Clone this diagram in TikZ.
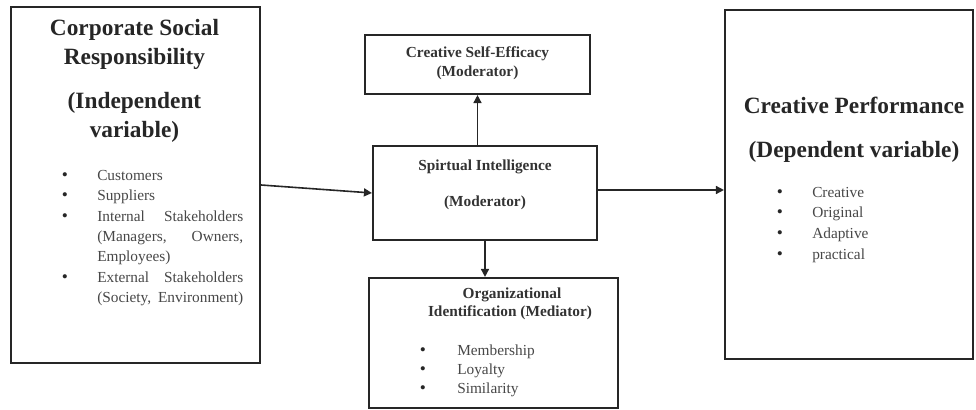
\documentclass[tikz,border=0pt]{standalone}
\usepackage{fontspec}
\setmainfont{Liberation Serif}
\usetikzlibrary{arrows.meta}
\begin{document}
\begin{tikzpicture}[x=0.75pt,y=-0.75pt,
  box/.style={draw=black!85, line width=1.6pt, inner sep=0pt},
  title/.style={font=\bfseries\fontsize{17.5}{20}\selectfont, text=black!85, inner sep=0pt},
  sub/.style={font=\bfseries\fontsize{11.5}{13}\selectfont, text=black!80, inner sep=0pt},
  item/.style={font=\fontsize{11.5}{13}\selectfont, text=black!72, inner sep=0pt, anchor=base west, yshift=-4pt},
  dot/.style={font=\fontsize{13}{13}\selectfont, text=black!85, inner sep=0pt, anchor=base, yshift=-4pt},
  conn/.style={draw=black!85, line width=1.2pt, -{Triangle[length=6pt,width=6pt]}}]
\useasboundingbox (0,0) rectangle (976,410);

% boxes
\node[box, minimum width=186.75pt, minimum height=267pt] (L) at (135.5,185) {};
\node[box, minimum width=168.75pt, minimum height=44.25pt] (CSE) at (477.5,64.5) {};
\node[box, minimum width=168pt, minimum height=70.5pt] (SI) at (485,193) {};
\node[box, minimum width=186.75pt, minimum height=97.5pt] (OI) at (493.5,343) {};
\node[box, minimum width=186pt, minimum height=261.75pt] (R) at (849,184.5) {};

% left box text
\node[title] (l1) at (134.5,30) {Corporate Social};
\node[title] (l2) at (134.5,59) {Responsibility};
\node[title] (l3) at (134.5,103) {(Independent};
\node[title] (l4) at (134.5,132) {variable)};
\node[dot] (lb1) at (65,175) {\textbullet};
\node[dot] (lb2) at (65,195) {\textbullet};
\node[dot] (lb3) at (65,216) {\textbullet};
\node[dot] (lb4) at (65,277) {\textbullet};
\node[item] (li1) at (97,175) {Customers};
\node[item] (li2) at (97,195) {Suppliers};
\node[item] (li3) at (97,216) {\makebox[109.5pt][s]{Internal Stakeholders}};
\node[item] (li4) at (97,236) {\makebox[109.5pt][s]{(Managers, Owners,}};
\node[item] (li5) at (97,256) {Employees)};
\node[item] (li6) at (97,277) {\makebox[109.5pt][s]{External Stakeholders}};
\node[item] (li7) at (97,297) {\makebox[109.5pt][s]{(Society, Environment)}};

% creative self-efficacy
\node[sub] (c1) at (477.5,54) {Creative Self-Efficacy};
\node[sub] (c2) at (477.5,73) {(Moderator)};

% spiritual intelligence
\node[sub] (s1) at (485,167) {Spirtual Intelligence};
\node[sub] (s2) at (485,203) {(Moderator)};

% organizational identification
\node[sub] (o1) at (512,295) {Organizational};
\node[sub] (o2) at (510,313) {Identification (Mediator)};
\node[dot] (ob1) at (423,350) {\textbullet};
\node[dot] (ob2) at (423,369) {\textbullet};
\node[dot] (ob3) at (423,388) {\textbullet};
\node[item] (oi1) at (457,350) {Membership};
\node[item] (oi2) at (457,369) {Loyalty};
\node[item] (oi3) at (457,388) {Similarity};

% right box
\node[title] (r1) at (854,105) {Creative Performance};
\node[title] (r2) at (854,152) {(Dependent variable)};
\node[dot] (rb1) at (780,192) {\textbullet};
\node[dot] (rb2) at (780,212) {\textbullet};
\node[dot] (rb3) at (780,233) {\textbullet};
\node[dot] (rb4) at (780,254) {\textbullet};
\node[item] (ri1) at (812,192) {Creative};
\node[item] (ri2) at (812,212) {Original};
\node[item] (ri3) at (812,233) {Adaptive};
\node[item] (ri4) at (812,254) {practical};

% connectors
\draw[conn] (L.east) -- (SI.west);
\draw[conn] (CSE.south |- SI.north) -- (CSE.south);
\draw[conn] (SI.south) -- (SI.south |- OI.north);
\draw[conn] ([yshift=2.25pt]SI.east) -- ([yshift=2.25pt]SI.east -| R.west);
\end{tikzpicture}
\end{document}
